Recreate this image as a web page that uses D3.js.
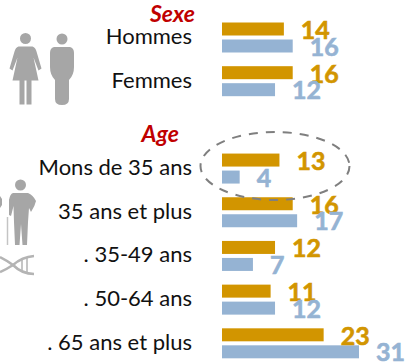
<!DOCTYPE html>
<html>
<head>
<meta charset="utf-8">
<script src="https://d3js.org/d3.v7.min.js"></script>
<style>
html, body { margin: 0; padding: 0; background: #fff; }
svg { display: block; }
text { font-family: Lato, "Open Sans", sans-serif; }
</style>
</head>
<body>
<div id="chart"></div>
<script>
// "" is the empty row between the two blocks
var categories = ["Hommes", "Femmes", "", "Mons de 35 ans", "35 ans et plus", ". 35-49 ans", ". 50-64 ans", ". 65 ans et plus"];
var orangeValues = [14, 16, null, 13, 16, 12, 11, 23];
var blueValues = [16, 12, null, 4, 17, 7, 12, 31];

var orange = "#d29500", blue = "#95b3d3", grey = "#a6a6a6";

var svg = d3.select("#chart").append("svg").attr("width", 407).attr("height", 362);

var x = d3.scaleLinear().domain([0, 31]).range([222, 359]);
var y = d3.scaleBand().domain(categories).range([22.5, 372]);
var barH = 13;

var rows = categories.map(function(c, i){
	return {cat: c, a: orangeValues[i], b: blueValues[i]};
}).filter(function(d){ return d.cat != ""; });

// ---- icons
function drawPerson(g, woman) {
	g.append("circle").attr("cx", 0).attr("cy", 0).attr("r", 5.5).attr("fill", grey);
	if (woman) {
		g.append("path").attr("fill", grey)
			.attr("d", "M-7,8 L7,8 Q10,9 11,13 L16,30 L13,32 L8,19 L13,42 L6,42 L6,66 L1,66 L1,42 L-1,42 L-1,66 L-6,66 L-6,42 L-13,42 L-8,19 L-13,32 L-16,30 L-11,13 Q-10,9 -7,8 Z");
	} else {
		g.append("path").attr("fill", grey)
			.attr("d", "M-8,8 L8,8 Q12,9 12,14 L12,28 Q12,36 7,41 L7,60 Q7,66 0,66 Q-7,66 -7,60 L-7,41 Q-12,36 -12,28 L-12,14 Q-12,9 -8,8 Z");
	}
}
drawPerson(svg.append("g").attr("transform", "translate(25.5,38.5)"), true);
drawPerson(svg.append("g").attr("transform", "translate(62,39)"), false);

// old man, cane, and the edge of the second figure
var old = svg.append("g");
old.append("circle").attr("cx", 20.5).attr("cy", 185).attr("r", 5.5).attr("fill", grey);
old.append("path").attr("fill", grey)
	.attr("d", "M13,193 L28,193 Q33,195 36,201 Q35,206 31,212 L29,208 L28,222 L27,245 L22.5,245 L21,224 L19.5,245 L15,245 L14,222 L13.5,206 L11,216 L9,215 L9,200 Q10,194 13,193 Z");
old.append("path").attr("fill", "none").attr("stroke", "#c4c4c4").attr("stroke-width", 1.5)
	.attr("d", "M7.5,217 L7.5,245");
old.append("path").attr("fill", grey).attr("d", "M0,196 L2,199 L2,205 L0,208 Z");
// dna strand
var dna = old.append("g").attr("fill", "none").attr("stroke", "#b4b4b4").attr("stroke-width", 2.5);
dna.append("path").attr("d", "M0,257 Q8,261 13,265 Q22,257 34,256");
dna.append("path").attr("d", "M0,272 Q7,269 13,265 Q22,274 34,274");
dna.append("path").attr("stroke-width", 1.5).attr("d", "M22,258 L22,271 M27,257 L27,273");

// ---- section titles
svg.append("text")
	.attr("class", "section")
	.attr("x", 195)
	.attr("y", y("Hommes") - 0.5)
	.text("Sexe");
svg.append("text")
	.attr("class", "section")
	.attr("x", 179)
	.attr("y", y("") + 32)
	.text("Age");
svg.selectAll(".section")
	.attr("text-anchor", "end")
	.attr("font-size", 23).attr("font-weight", 700).attr("font-style", "italic")
	.attr("fill", "#c00000");

// ---- row labels
svg.selectAll(".cat").data(rows).enter().append("text")
	.attr("class", "cat")
	.attr("x", 192)
	.attr("y", function(d){ return y(d.cat) + 21.5; })
	.attr("text-anchor", "end")
	.attr("font-size", 22)
	.attr("fill", "#111")
	.text(function(d){ return d.cat; });

// ---- bars
svg.selectAll(".barA").data(rows).enter().append("rect")
	.attr("class", "barA")
	.attr("x", x(0))
	.attr("y", function(d){ return y(d.cat); })
	.attr("width", function(d){ return x(d.a) - x(0); })
	.attr("height", barH)
	.attr("fill", orange);
svg.selectAll(".barB").data(rows).enter().append("rect")
	.attr("class", "barB")
	.attr("x", x(0))
	.attr("y", function(d){ return y(d.cat) + 17; })
	.attr("width", function(d){ return x(d.b) - x(0); })
	.attr("height", barH)
	.attr("fill", blue);

// ---- dashed ellipse round the under 35 row
svg.append("ellipse")
	.attr("cx", 275).attr("cy", 166).attr("rx", 74.5).attr("ry", 34)
	.attr("fill", "none").attr("stroke", "#7f7f7f").attr("stroke-width", 2)
	.attr("stroke-dasharray", "9 8");

// ---- values
svg.selectAll(".valA").data(rows).enter().append("text")
	.attr("class", "valA")
	.attr("x", function(d){ return x(d.a) + 17; })
	.attr("y", function(d){ return y(d.cat) + 16.5; })
	.attr("font-size", 25).attr("font-weight", 700)
	.attr("fill", orange).attr("stroke", orange).attr("stroke-width", 0.6)
	.text(function(d){ return d.a; });
svg.selectAll(".valB").data(rows).enter().append("text")
	.attr("class", "valB")
	.attr("x", function(d){ return x(d.b) + 17; })
	.attr("y", function(d){ return y(d.cat) + 33; })
	.attr("font-size", 25).attr("font-weight", 700)
	.attr("fill", blue).attr("stroke", blue).attr("stroke-width", 0.6)
	.text(function(d){ return d.b; });
</script>
</body>
</html>
